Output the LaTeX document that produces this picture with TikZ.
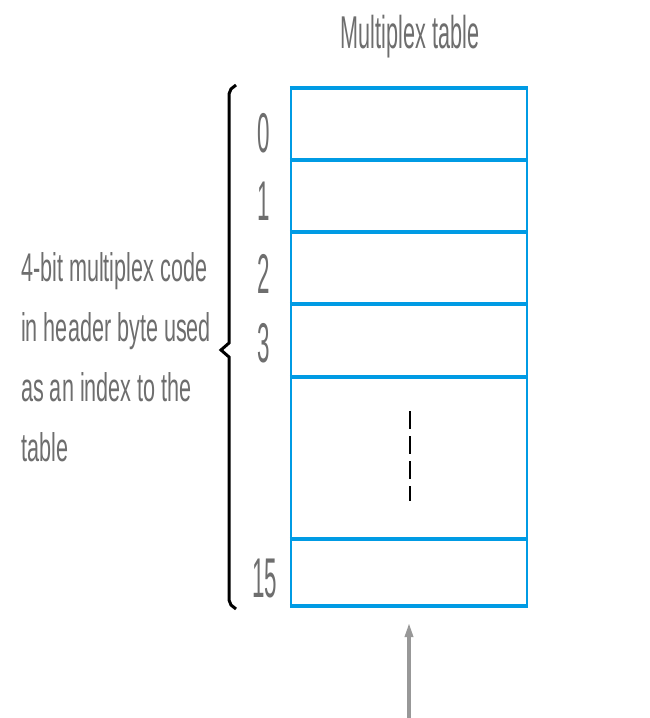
\documentclass[tikz,border=0pt]{standalone}
\usepackage{fontspec}
\usetikzlibrary{arrows.meta}
\setmainfont{Liberation Sans}
% narrow, light-looking sans faces for labels
\newfontfamily\labelfont[FakeStretch=0.54]{Liberation Sans}
\newfontfamily\titlefont[FakeStretch=0.47]{Liberation Sans}
\newfontfamily\digitfont[FakeStretch=0.40]{Liberation Sans}
\definecolor{tableblue}{RGB}{0,155,228}
\definecolor{labelgray}{RGB}{110,110,110}
\definecolor{arrowgray}{RGB}{152,152,152}
\tikzset{
  rowline/.style={tableblue, line width=4pt},
  sideline/.style={tableblue, line width=2.5pt},
  idx/.style={text=labelgray, font={\digitfont\fontsize{56}{56}\selectfont}, inner sep=0pt, anchor=base},
  brace/.style={black, line width=3pt, line join=miter},
  gap/.style={black, line width=2.5pt, dash pattern=on 18pt off 7pt},
  feed/.style={arrowgray, line width=4.5pt, -{Triangle[length=18pt,width=7pt]}}
}
\begin{document}
\begin{tikzpicture}[x=1pt,y=-1pt]
  \useasboundingbox (0,0) rectangle (649,718);
  \fill[white] (0,0) rectangle (649,718);

  % title
  \node[text=labelgray, font={\titlefont\fontsize{46}{46}\selectfont}, inner sep=0pt, anchor=base]
    (title) at (410,48) {Multiplex table};

  % table body: side walls and row separators
  \draw[sideline] (291,86) -- (291,608);
  \draw[sideline] (527,86) -- (527,608);
  \foreach \yy in {88,160,232,304,377,539,606}
    \draw[rowline] (289.75,\yy) -- (528.25,\yy);
  \coordinate (tabbottom) at (409,619);

  % elided rows
  \draw[gap] (410,411) -- (410,501);

  % row indices
  \node[idx] (i0) at (264,152) {0};
  \node[idx] (i1) at (264,220) {1};
  \node[idx] (i2) at (264,293) {2};
  \node[idx] (i3) at (264,362) {3};
  \node[idx] (i15) at (265,597) {15};

  % brace spanning the indices
  \draw[brace] (236,85) -- (231,89) -- (229,94) -- (229,343) -- (221,350) -- (229,357)
    -- (229,600) -- (231,605) -- (236,609);
  \coordinate (bracetip) at (221,350);

  % explanatory text (anchored at the baseline of its last line)
  \node[text=labelgray, font={\labelfont\fontsize{40}{60}\selectfont}, inner sep=0pt,
        align=left, anchor=base west] (note) at (21,461)
    {4-bit multiplex code\\in header byte used\\as an index to the\\table};

  % incoming code
  \coordinate (feedstart) at (409,718);
  \draw[feed] (feedstart) -- (tabbottom);
\end{tikzpicture}
\end{document}
